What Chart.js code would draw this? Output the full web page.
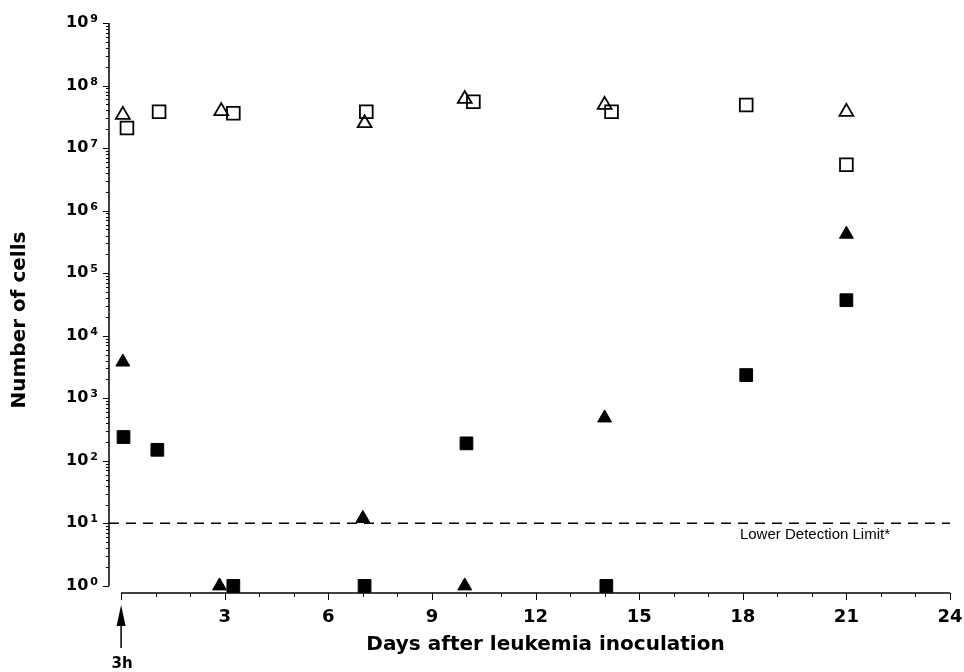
<!DOCTYPE html>
<html>
<head>
<meta charset="utf-8">
<title>Number of cells after leukemia inoculation</title>
<script src="https://cdn.jsdelivr.net/npm/chart.js@4.4.1/dist/chart.umd.min.js"></script>
<style>
  html, body { margin: 0; padding: 0; background: #fff; }
  canvas { display: block; }
</style>
</head>
<body>
<canvas id="cellChart" width="964" height="672"></canvas>
<script>
// days are slightly offset where the original plot shifts overlapping symbols
const openTriangleDays = [0.05, 2.9, 7.05, 9.95, 14, 21];
const openTriangleCells = [3.4e7, 3.9e7, 2.5e7, 6.1e7, 4.9e7, 3.8e7];

const openSquareDays = [0.17, 1.1, 3.25, 7.1, 10.2, 14.2, 18.1, 21];
const openSquareCells = [2.1e7, 3.8e7, 3.6e7, 3.8e7, 5.5e7, 3.8e7, 4.9e7, 5.4e6];

const filledTriangleDays = [0.05, 2.85, 7.0, 9.95, 14, 21];
const filledTriangleCells = [3.8e3, 1, 12, 1, 485, 4.2e5];

const filledSquareDays = [0.07, 1.05, 3.25, 7.05, 10, 14.05, 18.1, 21];
const filledSquareCells = [240, 150, 1, 1, 190, 1, 2350, 3.7e4];

const detectionLimit = 10;
const limitLabel = 'Lower Detection Limit*';
const xTitle = 'Days after leukemia inoculation';
const yTitle = 'Number of cells';
const startLabel = '3h';

const xTickDays = [0, 1, 2, 3, 4, 5, 6, 7, 8, 9, 10, 11, 12, 13, 14, 15, 16, 17, 18, 19, 20, 21, 22, 23, 24];
const xLabelDays = [3, 6, 9, 12, 15, 18, 21, 24];
const yExponents = [0, 1, 2, 3, 4, 5, 6, 7, 8, 9];

const BOLD = '"DejaVu Sans", "Liberation Sans", sans-serif';
const PLAIN = '"Liberation Sans", Arial, sans-serif';

function toPoints(days, cells) {
    return days.map((d, i) => ({ x: d, y: cells[i] }));
}

function isDecade(v) {
    const e = Math.log10(v);
    return Math.abs(e - Math.round(e)) < 1e-9;
}

// log ticks: 1..9 per decade, labels only on the decades
function buildYTicks() {
    const ticks = [];
    const last = yExponents[yExponents.length - 1];
    yExponents.forEach(e => {
        if (e === last) {
            ticks.push({ value: Math.pow(10, e) });
            return;
        }
        for (let d = 1; d <= 9; d++) ticks.push({ value: d * Math.pow(10, e) });
    });
    return ticks;
}

const axisPlugin = {
    id: 'axisPlugin',
    beforeDatasetsDraw(chart) {
        const { ctx, chartArea, scales: { x, y } } = chart;
        ctx.save();
        ctx.strokeStyle = '#000';

        // y axis, stops at 10^0
        const left = chartArea.left;
        ctx.lineWidth = 1.5;
        ctx.beginPath();
        ctx.moveTo(left, y.getPixelForValue(Math.pow(10, yExponents[yExponents.length - 1])));
        ctx.lineTo(left, y.getPixelForValue(1));
        ctx.stroke();
        ctx.lineWidth = 1;
        y.ticks.forEach(t => {
            const py = Math.round(y.getPixelForValue(t.value)) + 0.5;
            const len = isDecade(t.value) ? 6 : 3;
            ctx.beginPath();
            ctx.moveTo(left, py);
            ctx.lineTo(left - len, py);
            ctx.stroke();
        });

        // x axis, starts at day 0
        const bottom = chartArea.bottom;
        ctx.lineWidth = 1.5;
        ctx.beginPath();
        ctx.moveTo(x.getPixelForValue(xTickDays[0]), bottom);
        ctx.lineTo(x.getPixelForValue(xTickDays[xTickDays.length - 1]), bottom);
        ctx.stroke();
        ctx.lineWidth = 1;
        xTickDays.forEach(d => {
            const px = Math.round(x.getPixelForValue(d)) + 0.5;
            const len = xLabelDays.includes(d) || d === 0 ? 7 : 4;
            ctx.beginPath();
            ctx.moveTo(px, bottom);
            ctx.lineTo(px, bottom + len);
            ctx.stroke();
        });
        ctx.restore();
    },
    afterDraw(chart) {
        const { ctx, chartArea, scales: { x, y } } = chart;
        ctx.save();
        ctx.fillStyle = '#000';
        ctx.strokeStyle = '#000';

        // y tick labels as 10 with a raised exponent
        ctx.textBaseline = 'alphabetic';
        yExponents.forEach(e => {
            const py = y.getPixelForValue(Math.pow(10, e));
            const rightEdge = chartArea.left - 11;
            ctx.font = 'bold 11px ' + BOLD;
            ctx.textAlign = 'right';
            ctx.fillText(String(e), rightEdge, py - 1);
            const expWidth = ctx.measureText(String(e)).width;
            ctx.font = 'bold 16px ' + BOLD;
            ctx.fillText('10', rightEdge - expWidth - 2, py + 4);
        });

        // axis titles
        ctx.font = 'bold 20px ' + BOLD;
        ctx.textAlign = 'center';
        ctx.textBaseline = 'middle';
        ctx.fillText(xTitle, (chartArea.left + chartArea.right) / 2 + 16, chartArea.bottom + 52);
        ctx.save();
        ctx.translate(20, (chartArea.top + chartArea.bottom) / 2 + 12);
        ctx.rotate(-Math.PI / 2);
        ctx.fillText(yTitle, 0, 0);
        ctx.restore();

        // 3h arrow under day 0
        const ax = x.getPixelForValue(0);
        const tip = chartArea.bottom + 12;
        ctx.lineWidth = 1.5;
        ctx.beginPath();
        ctx.moveTo(ax, tip + 15);
        ctx.lineTo(ax, tip + 43);
        ctx.stroke();
        ctx.beginPath();
        ctx.moveTo(ax, tip);
        ctx.lineTo(ax - 4.5, tip + 21);
        ctx.lineTo(ax + 4.5, tip + 21);
        ctx.closePath();
        ctx.fill();
        ctx.font = 'bold 15px ' + BOLD;
        ctx.fillText(startLabel, ax + 1, tip + 59);

        // detection limit caption
        ctx.font = '15px ' + PLAIN;
        ctx.textAlign = 'right';
        ctx.fillText(limitLabel, chartArea.right - 60, y.getPixelForValue(detectionLimit) + 12);
        ctx.restore();
    }
};

const ctx = document.getElementById('cellChart').getContext('2d');
const cellChart = new Chart(ctx, {
    type: 'scatter',
    data: {
        datasets: [
            {
                label: 'Detection limit',
                type: 'line',
                data: [{ x: -0.35, y: detectionLimit }, { x: 24, y: detectionLimit }],
                borderColor: '#000',
                borderWidth: 1.5,
                borderDash: [10, 7],
                pointRadius: 0,
                fill: false
            },
            {
                label: 'Open triangles',
                data: toPoints(openTriangleDays, openTriangleCells),
                pointStyle: 'triangle',
                pointRadius: 8,
                borderColor: '#000',
                borderWidth: 1.8,
                backgroundColor: 'rgba(0,0,0,0)'
            },
            {
                label: 'Open squares',
                data: toPoints(openSquareDays, openSquareCells),
                pointStyle: 'rect',
                pointRadius: 9,
                borderColor: '#000',
                borderWidth: 1.8,
                backgroundColor: 'rgba(0,0,0,0)'
            },
            {
                label: 'Filled triangles',
                data: toPoints(filledTriangleDays, filledTriangleCells),
                pointStyle: 'triangle',
                pointRadius: 8,
                borderColor: '#000',
                borderWidth: 1,
                backgroundColor: '#000'
            },
            {
                label: 'Filled squares',
                data: toPoints(filledSquareDays, filledSquareCells),
                pointStyle: 'rect',
                pointRadius: 9,
                borderColor: '#000',
                borderWidth: 1,
                backgroundColor: '#000'
            }
        ]
    },
    options: {
        responsive: false,
        animation: false,
        clip: false,
        layout: { padding: { top: 23, right: 14, left: 0, bottom: 0 } },
        plugins: {
            legend: { display: false },
            tooltip: { enabled: false }
        },
        scales: {
            x: {
                type: 'linear',
                min: -0.35,
                max: 24,
                afterBuildTicks: s => { s.ticks = xTickDays.map(v => ({ value: v })); },
                afterFit: s => { s.height = 79; s.paddingLeft = 0; s.paddingRight = 0; },
                ticks: {
                    autoSkip: false,
                    maxRotation: 0,
                    padding: 14,
                    color: '#000',
                    font: { family: BOLD, size: 18, weight: 'bold' },
                    callback: v => xLabelDays.includes(v) ? String(v) : ''
                },
                grid: { display: false, drawTicks: false },
                border: { display: false }
            },
            y: {
                type: 'logarithmic',
                min: 0.77,
                max: 1e9,
                afterBuildTicks: s => { s.ticks = buildYTicks(); },
                afterFit: s => { s.width = 109; s.paddingTop = 0; s.paddingBottom = 0; },
                ticks: { display: false },
                grid: { display: false, drawTicks: false },
                border: { display: false }
            }
        }
    },
    plugins: [axisPlugin]
});
</script>
</body>
</html>
